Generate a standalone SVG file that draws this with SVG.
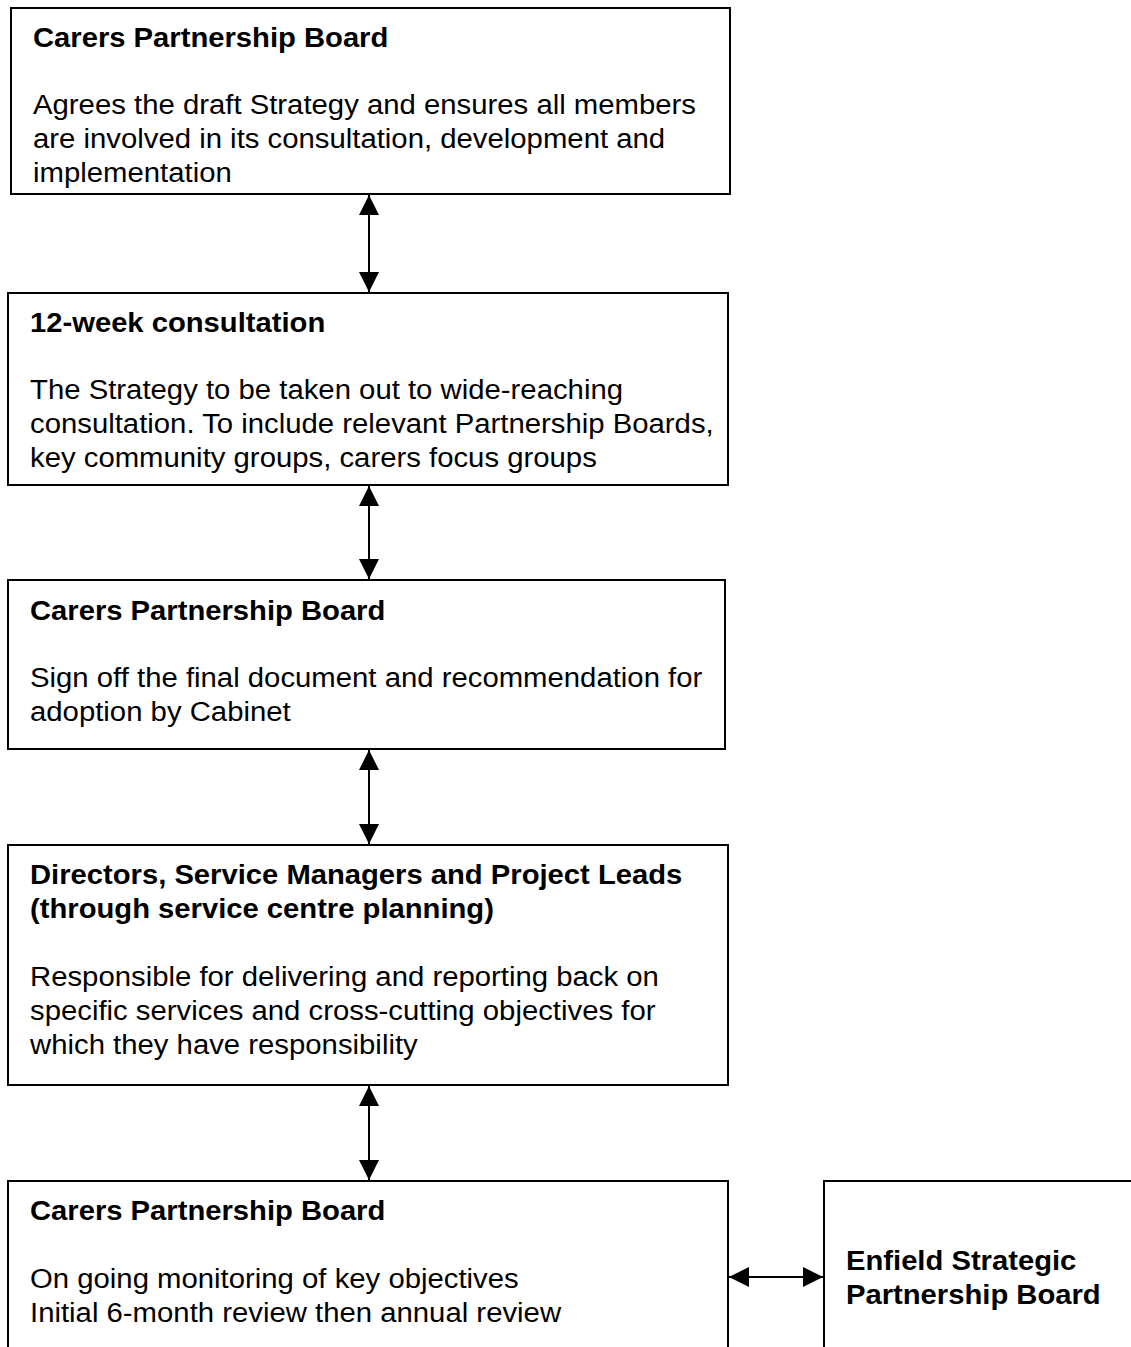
<svg xmlns="http://www.w3.org/2000/svg" width="1131" height="1347" viewBox="0 0 1131 1347">
<defs>
<style>
.box{fill:#fff;stroke:#000;stroke-width:2}
.t{font-family:"Liberation Sans",Arial,sans-serif;font-size:27px;font-weight:bold;fill:#000}
.b{font-family:"Liberation Sans",Arial,sans-serif;font-size:28px;fill:#000}
.c{stroke:#000;stroke-width:2;fill:none;marker-start:url(#ah);marker-end:url(#ah)}
</style>
<marker id="ah" viewBox="0 0 20 20" refX="20" refY="10" markerWidth="20" markerHeight="20" markerUnits="userSpaceOnUse" orient="auto-start-reverse">
<path d="M0,0 L20,10 L0,20 z" fill="#000"/>
</marker>
</defs>
<rect width="1131" height="1347" fill="#fff"/>
<g id="n1">
<rect class="box" x="11" y="8" width="719" height="186"/>
<g transform="translate(33,2) scale(1.082,1)"><text class="t" x="0" y="45">Carers Partnership Board</text></g>
<g transform="translate(33,2) scale(1.047,1)">
<text class="b" x="0" y="112">Agrees the draft Strategy and ensures all members</text>
<text class="b" x="0" y="146">are involved in its consultation, development and</text>
<text class="b" x="0" y="180">implementation</text>
</g>
</g>
<g id="n2">
<rect class="box" x="8" y="293" width="720" height="192"/>
<g transform="translate(30,2) scale(1.082,1)"><text class="t" x="0" y="330">12-week consultation</text></g>
<g transform="translate(30,2) scale(1.047,1)">
<text class="b" x="0" y="397">The Strategy to be taken out to wide-reaching</text>
<text class="b" x="0" y="431">consultation. To include relevant Partnership Boards,</text>
<text class="b" x="0" y="465">key community groups, carers focus groups</text>
</g>
</g>
<g id="n3">
<rect class="box" x="8" y="580" width="717" height="169"/>
<g transform="translate(30,2) scale(1.082,1)"><text class="t" x="0" y="618">Carers Partnership Board</text></g>
<g transform="translate(30,2) scale(1.047,1)">
<text class="b" x="0" y="685">Sign off the final document and recommendation for</text>
<text class="b" x="0" y="719">adoption by Cabinet</text>
</g>
</g>
<g id="n4">
<rect class="box" x="8" y="845" width="720" height="240"/>
<g transform="translate(30,2) scale(1.082,1)">
<text class="t" x="0" y="882">Directors, Service Managers and Project Leads</text>
<text class="t" x="0" y="916">(through service centre planning)</text>
</g>
<g transform="translate(30,2) scale(1.047,1)">
<text class="b" x="0" y="984">Responsible for delivering and reporting back on</text>
<text class="b" x="0" y="1018">specific services and cross-cutting objectives for</text>
<text class="b" x="0" y="1052">which they have responsibility</text>
</g>
</g>
<g id="n5">
<path class="box" d="M8,1360 L8,1181 L728,1181 L728,1360"/>
<g transform="translate(30,2) scale(1.082,1)"><text class="t" x="0" y="1218">Carers Partnership Board</text></g>
<g transform="translate(30,2) scale(1.047,1)">
<text class="b" x="0" y="1286">On going monitoring of key objectives</text>
<text class="b" x="0" y="1320">Initial 6-month review then annual review</text>
</g>
</g>
<g id="n6">
<path class="box" d="M824,1360 L824,1181 L1140,1181"/>
<g transform="translate(846,2) scale(1.082,1)">
<text class="t" x="0" y="1268">Enfield Strategic</text>
<text class="t" x="0" y="1302">Partnership Board</text>
</g>
</g>
<g id="connectors">
<line class="c" x1="369" y1="195" x2="369" y2="292"/>
<line class="c" x1="369" y1="486" x2="369" y2="579"/>
<line class="c" x1="369" y1="750" x2="369" y2="844"/>
<line class="c" x1="369" y1="1086" x2="369" y2="1180"/>
<line class="c" x1="729" y1="1277" x2="823" y2="1277"/>
</g>
</svg>
